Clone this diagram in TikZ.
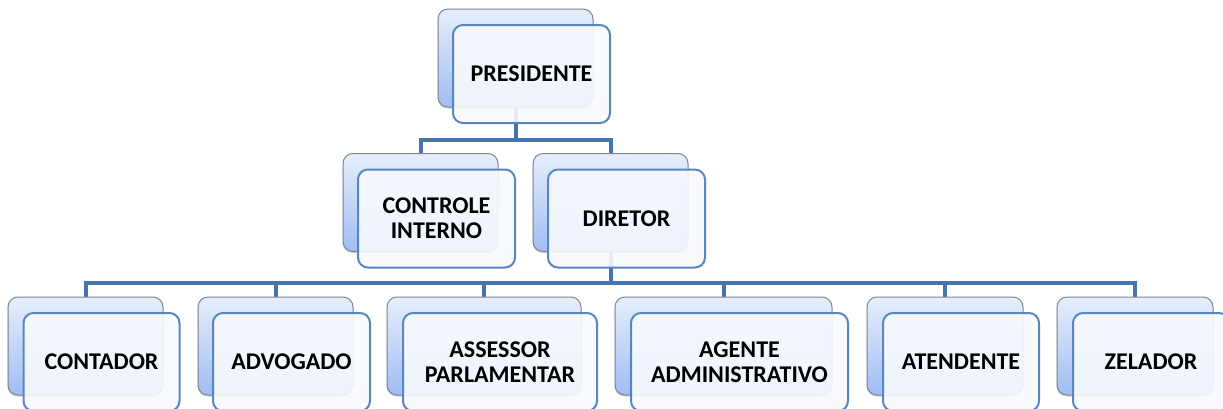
\documentclass[tikz,border=0pt]{standalone}
\usepackage{fontspec}
\setmainfont{Carlito}
\usetikzlibrary{shadows}
\definecolor{conncol}{HTML}{4674AE}
\definecolor{backtop}{HTML}{E6EEFB}
\definecolor{backbot}{HTML}{9FBEF4}
\definecolor{backline}{HTML}{7F8490}
\definecolor{frontfill}{HTML}{F8FAFE}
\definecolor{frontline}{HTML}{5A86BF}
\tikzset{
  conn/.style={draw=conncol, line width=4pt, line join=miter},
  backbox/.style={draw=backline, line width=1pt, rounded corners=10pt,
    top color=backtop, bottom color=backbot, minimum height=98pt, inner sep=0pt,
    drop shadow={shadow xshift=-0.5pt, shadow yshift=-1.5pt, opacity=0.35}},
  frontbox/.style={draw=frontline, line width=2pt, rounded corners=10pt,
    fill=frontfill, fill opacity=0.9, text opacity=1, minimum height=98pt, inner sep=0pt,
    align=center, font=\bfseries\fontsize{24}{25}\selectfont},
}
\begin{document}
\begin{tikzpicture}[x=1pt,y=-1pt]
\useasboundingbox (0,0) rectangle (1223,408);
% bus coordinates
\coordinate (bus1) at (0,140);
\coordinate (bus2) at (0,283);
% back boxes (positions)
\path
  (515.5,58)  coordinate (cP)
  (420.5,202.5) coordinate (cCI)
  (610.5,202.5) coordinate (cD)
  (85.5,346)  coordinate (cC)
  (275.5,346) coordinate (cA)
  (484,346)   coordinate (cAS)
  (723.5,346) coordinate (cAG)
  (945,346)   coordinate (cAT)
  (1135,346)  coordinate (cZ);
% invisible anchors for connectors
\node[minimum width=155pt, minimum height=98pt, inner sep=0pt] (pB) at (cP) {};
\node[minimum width=155pt, minimum height=98pt, inner sep=0pt] (ciB) at (cCI) {};
\node[minimum width=155pt, minimum height=98pt, inner sep=0pt] (dB) at (cD) {};
\node[minimum width=155pt, minimum height=98pt, inner sep=0pt] (cB) at (cC) {};
\node[minimum width=155pt, minimum height=98pt, inner sep=0pt] (aB) at (cA) {};
\node[minimum width=194pt, minimum height=98pt, inner sep=0pt] (asB) at (cAS) {};
\node[minimum width=217pt, minimum height=98pt, inner sep=0pt] (agB) at (cAG) {};
\node[minimum width=156pt, minimum height=98pt, inner sep=0pt] (atB) at (cAT) {};
\node[minimum width=156pt, minimum height=98pt, inner sep=0pt] (zB) at (cZ) {};
% connectors
\draw[conn] (pB.south) -- (pB.south |- bus1) -| (ciB.north);
\draw[conn] (pB.south) -- (pB.south |- bus1) -| (dB.north);
\foreach \t in {cB,aB,asB,agB,atB,zB}{
  \draw[conn] (dB.south) -- (dB.south |- bus2) -| (\t.north);
}
% back boxes drawn
\node[backbox, minimum width=155pt] (pBk) at (cP) {};
\node[backbox, minimum width=155pt] (ciBk) at (cCI) {};
\node[backbox, minimum width=155pt] (dBk) at (cD) {};
\node[backbox, minimum width=155pt] (cBk) at (cC) {};
\node[backbox, minimum width=155pt] (aBk) at (cA) {};
\node[backbox, minimum width=194pt] (asBk) at (cAS) {};
\node[backbox, minimum width=217pt] (agBk) at (cAG) {};
\node[backbox, minimum width=156pt] (atBk) at (cAT) {};
\node[backbox, minimum width=156pt] (zBk) at (cZ) {};
% front boxes with text
\node[frontbox, minimum width=157pt] (p) at ([shift={(16,16)}]cP) {PRESIDENTE};
\node[frontbox, minimum width=157pt] (ci) at ([shift={(16,16)}]cCI) {CONTROLE\\INTERNO};
\node[frontbox, minimum width=157pt] (d) at ([shift={(16,16)}]cD) {DIRETOR};
\node[frontbox, minimum width=156pt] (c) at ([shift={(16,16)}]cC) {CONTADOR};
\node[frontbox, minimum width=157pt] (a) at ([shift={(16,16)}]cA) {ADVOGADO};
\node[frontbox, minimum width=194pt] (as) at ([shift={(16,16)}]cAS) {ASSESSOR\\PARLAMENTAR};
\node[frontbox, minimum width=217pt] (ag) at ([shift={(16,16)}]cAG) {AGENTE\\ADMINISTRATIVO};
\node[frontbox, minimum width=156pt] (at) at ([shift={(16,16)}]cAT) {ATENDENTE};
\node[frontbox, minimum width=156pt] (z) at ([shift={(16,16)}]cZ) {ZELADOR};
\end{tikzpicture}
\end{document}
